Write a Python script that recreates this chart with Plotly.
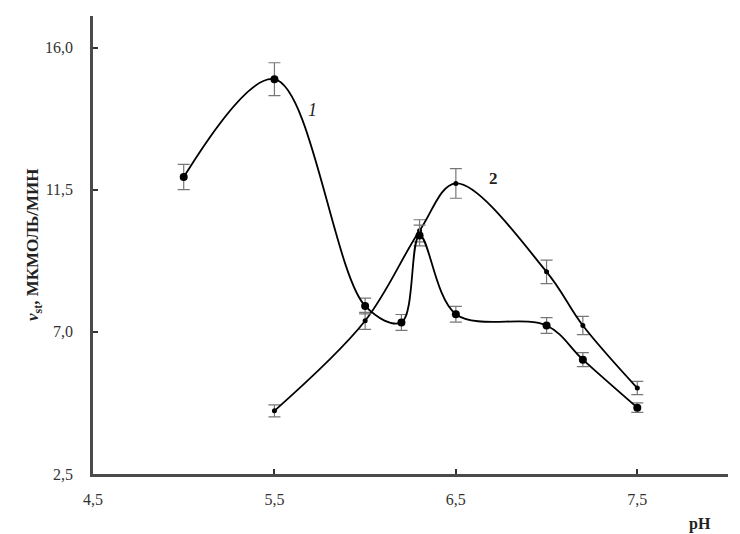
import plotly.graph_objects as go

# Curve 1 (large dots)
ph_1 = [5.0, 5.5, 6.0, 6.2, 6.3, 6.5, 7.0, 7.2, 7.5]
v_1 = [11.9, 15.0, 7.82, 7.3, 10.05, 7.56, 7.2, 6.12, 4.6]
err_1 = [0.4, 0.52, 0.25, 0.25, 0.33, 0.25, 0.25, 0.22, 0.15]

# Curve 2 (small dots)
ph_2 = [5.5, 6.0, 6.3, 6.5, 7.0, 7.2, 7.5]
v_2 = [4.5, 7.35, 10.2, 11.7, 8.9, 7.2, 5.22]
err_2 = [0.19, 0.27, 0.35, 0.47, 0.37, 0.29, 0.21]

x_ticks = [4.5, 5.5, 6.5, 7.5]
y_ticks = [2.5, 7.0, 11.5, 16.0]

serif = "Liberation Serif, Times New Roman, serif"

fig = go.Figure()

fig.add_trace(go.Scatter(
    x=ph_2, y=v_2, mode="lines+markers",
    line=dict(color="black", width=1.8, shape="spline", smoothing=1.0),
    marker=dict(color="black", size=5),
    error_y=dict(type="data", array=err_2, color="#777777", thickness=1.2, width=6),
    showlegend=False,
))
fig.add_trace(go.Scatter(
    x=ph_1, y=v_1, mode="lines+markers",
    line=dict(color="black", width=1.8, shape="spline", smoothing=1.0),
    marker=dict(color="black", size=8),
    error_y=dict(type="data", array=err_1, color="#777777", thickness=1.2, width=6),
    showlegend=False,
))

fig.add_annotation(x=5.71, y=14.03, text="<i>1</i>", showarrow=False,
                   font=dict(family=serif, size=18, color="#222"))
fig.add_annotation(x=6.71, y=11.85, text="<b>2</b>", showarrow=False,
                   font=dict(family=serif, size=17, color="#222"))
fig.add_annotation(xref="paper", yref="paper", x=(692 - 85) / 635,
                   y=-(516 - 466) / 458, xanchor="center", yanchor="middle",
                   text="<b>pH</b>", showarrow=False,
                   font=dict(family=serif, size=16, color="#222"))
fig.add_annotation(xref="paper", yref="paper", x=(26 - 85) / 635, y=0.5,
                   xanchor="center", yanchor="middle",
                   text="<b><i>v</i><sub>st</sub>, МКМОЛЬ/МИН</b>", textangle=-90,
                   showarrow=False, font=dict(family=serif, size=17, color="#222"))

fig.update_layout(
    width=740, height=534, autosize=False,
    margin=dict(l=85, r=20, t=8, b=68),
    plot_bgcolor="white", paper_bgcolor="white",
    separators=", ",
    font=dict(family=serif, size=16, color="#333"),
)

fig.update_xaxes(
    range=[4.5, 8.0], tickvals=x_ticks, tickformat=".1f",
    showline=True, linecolor="#4a4a4a", linewidth=2.5,
    ticks="inside", ticklen=5, tickcolor="#333", tickwidth=1.5,
    showgrid=False, zeroline=False, ticklabelstandoff=9,
)
fig.update_yaxes(
    range=[2.5, 17.0], tickvals=y_ticks, tickformat=".1f",
    showline=True, linecolor="#4a4a4a", linewidth=2.5,
    ticks="inside", ticklen=5, tickcolor="#333", tickwidth=1.5,
    showgrid=False, zeroline=False, ticklabelstandoff=14,
)

fig.write_html("out.html")
